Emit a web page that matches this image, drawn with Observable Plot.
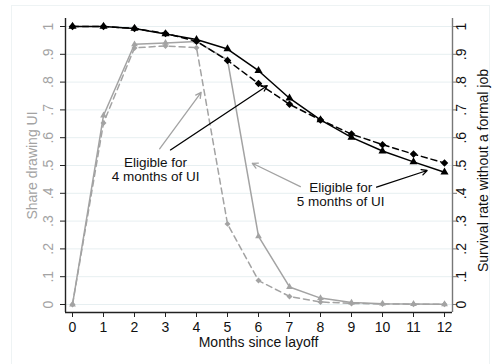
<!DOCTYPE html>
<html>
<head>
<meta charset="utf-8">
<script src="https://cdn.jsdelivr.net/npm/d3@7"></script>
<script src="https://cdn.jsdelivr.net/npm/@observablehq/plot@0.6"></script>
<style>
  html, body { margin: 0; padding: 0; background: #fff; }
  #chart svg { display: block; }
</style>
</head>
<body>
<div id="chart"></div>
<script>
// Months since layoff
const months = [0, 1, 2, 3, 4, 5, 6, 7, 8, 9, 10, 11, 12];

// Survival rate without a formal job (right axis)
const survival4 = [1, 1, 0.993, 0.975, 0.947, 0.878, 0.795, 0.72, 0.664, 0.613, 0.575, 0.541, 0.509];
const survival5 = [1, 1, 0.993, 0.973, 0.953, 0.919, 0.841, 0.742, 0.664, 0.601, 0.552, 0.513, 0.476];

// Share drawing UI (left axis)
const ui4 = [0, 0.653, 0.923, 0.930, 0.924, 0.290, 0.086, 0.029, 0.009, 0.004, 0.002, 0.001, 0.001];
const ui5 = [0, 0.680, 0.936, 0.941, 0.946, 0.880, 0.245, 0.063, 0.023, 0.007, 0.003, 0.002, 0.001];

// Axis ticks and labels
const yTicks = [0, 0.1, 0.2, 0.3, 0.4, 0.5, 0.6, 0.7, 0.8, 0.9, 1];
const yTickLabels = ["0", ".1", ".2", ".3", ".4", ".5", ".6", ".7", ".8", ".9", "1"];
const xTickLabels = months.map(String);

// Callouts: text placement and arrows, in data units (month, share)
const callouts = [
  {text: "Eligible for\n4 months of UI", x: 2.68, y: 0.486},
  {text: "Eligible for\n5 months of UI", x: 8.65, y: 0.395}
];
const grayArrows = [
  {x1: 2.81, y1: 0.56, x2: 4.15, y2: 0.763},
  {x1: 7.35, y1: 0.424, x2: 5.80, y2: 0.508}
];
const blackArrows = [
  {x1: 3.16, y1: 0.556, x2: 6.28, y2: 0.787},
  {x1: 9.81, y1: 0.422, x2: 11.44, y2: 0.482}
];

const rows = (vals) => months.map((m, i) => ({month: m, value: vals[i]}));
const s4 = rows(survival4), s5 = rows(survival5), u4 = rows(ui4), u5 = rows(ui5);

const xMin = -0.226, xMax = 12.258;
const yMin = -0.0288, yMax = 1.0288;
const gray = "#a3a3a3";
const font = "Liberation Sans, Arial, Helvetica, sans-serif";
const pxX = (xMax - xMin) / 387;   // data units per pixel, x
const pxY = (yMax - yMin) / 294;   // data units per pixel, y

const chart = Plot.plot({
  width: 492,
  height: 364,
  marginLeft: 65,
  marginRight: 40,
  marginTop: 18,
  marginBottom: 52,
  style: {fontFamily: font, background: "transparent", overflow: "visible"},
  x: {domain: [xMin, xMax], axis: null},
  y: {domain: [yMin, yMax], axis: null},
  marks: [
    // grid
    Plot.ruleY(yTicks, {x1: xMin, x2: xMax, stroke: "#e7eff1", strokeWidth: 1}),

    // UI share
    Plot.line(u4, {x: "month", y: "value", stroke: gray, strokeWidth: 1.5, strokeDasharray: "6,4"}),
    Plot.dot(u4, {x: "month", y: "value", symbol: "diamond2", r: 2.7, fill: gray}),
    Plot.line(u5, {x: "month", y: "value", stroke: gray, strokeWidth: 1.5}),
    Plot.dot(u5, {x: "month", y: "value", symbol: "triangle", r: 2.5, fill: gray}),

    // survival
    Plot.line(s4, {x: "month", y: "value", stroke: "#000", strokeWidth: 1.5, strokeDasharray: "6,4"}),
    Plot.dot(s4, {x: "month", y: "value", symbol: "diamond2", r: 3.4, fill: "#000"}),
    Plot.line(s5, {x: "month", y: "value", stroke: "#000", strokeWidth: 1.5}),
    Plot.dot(s5, {x: "month", y: "value", symbol: "triangle", r: 3, fill: "#000"}),

    // callouts
    Plot.arrow(grayArrows, {x1: "x1", y1: "y1", x2: "x2", y2: "y2", stroke: gray, strokeWidth: 1.3, headLength: 7, headAngle: 55}),
    Plot.arrow(blackArrows, {x1: "x1", y1: "y1", x2: "x2", y2: "y2", stroke: "#000", strokeWidth: 1.3, headLength: 7, headAngle: 55}),
    Plot.text(callouts, {x: "x", y: "y", text: "text", fontSize: 13.5, lineHeight: 1.06, textAnchor: "middle", lineAnchor: "middle", fill: "#111"}),

    // axis lines
    Plot.ruleX([xMin], {y1: yMin, y2: yMax, stroke: "#222", strokeWidth: 1.4}),
    Plot.ruleX([xMax], {y1: yMin, y2: yMax, stroke: "#777", strokeWidth: 1.4}),
    Plot.ruleY([yMin], {x1: xMin, x2: xMax, stroke: "#222", strokeWidth: 1.4}),

    // left axis
    Plot.ruleY(yTicks, {x1: xMin - 5 * pxX, x2: xMin, stroke: "#222", strokeWidth: 1}),
    Plot.text(yTicks, {x: xMin, y: d => d, text: (d, i) => yTickLabels[i], rotate: -90, dx: -17, fontSize: 14, fill: gray, textAnchor: "middle", lineAnchor: "middle"}),
    Plot.text(["Share drawing UI"], {x: xMin, y: 0.5, text: d => d, rotate: -90, dx: -33, fontSize: 14, fill: gray, textAnchor: "middle", lineAnchor: "middle"}),

    // right axis
    Plot.ruleY(yTicks, {x1: xMax, x2: xMax + 5 * pxX, stroke: "#777", strokeWidth: 1}),
    Plot.text(yTicks, {x: xMax, y: d => d, text: (d, i) => yTickLabels[i], rotate: -90, dx: 9, fontSize: 14, fill: "#111", textAnchor: "middle", lineAnchor: "middle"}),
    Plot.text(["Survival rate without a formal job"], {x: xMax, y: 0.482, text: d => d, rotate: -90, dx: 31, fontSize: 14, fill: "#111", textAnchor: "middle", lineAnchor: "middle"}),

    // bottom axis
    Plot.ruleX(months, {y1: yMin, y2: yMin - 5 * pxY, stroke: "#222", strokeWidth: 1}),
    Plot.text(months, {x: d => d, y: yMin, text: (d, i) => xTickLabels[i], dy: 15, fontSize: 14, fill: "#111", textAnchor: "middle", lineAnchor: "middle"}),
    Plot.text(["Months since layoff"], {x: 6, y: yMin, text: d => d, dy: 30, fontSize: 14, fill: "#111", textAnchor: "middle", lineAnchor: "middle"})
  ]
});

// faint outer panel border behind the chart
d3.select(chart).insert("rect", ":first-child")
  .attr("x", 11.5).attr("y", 5.5)
  .attr("width", 478).attr("height", 380)
  .attr("fill", "none").attr("stroke", "#eef3f4");

document.getElementById("chart").appendChild(chart);
</script>
</body>
</html>
